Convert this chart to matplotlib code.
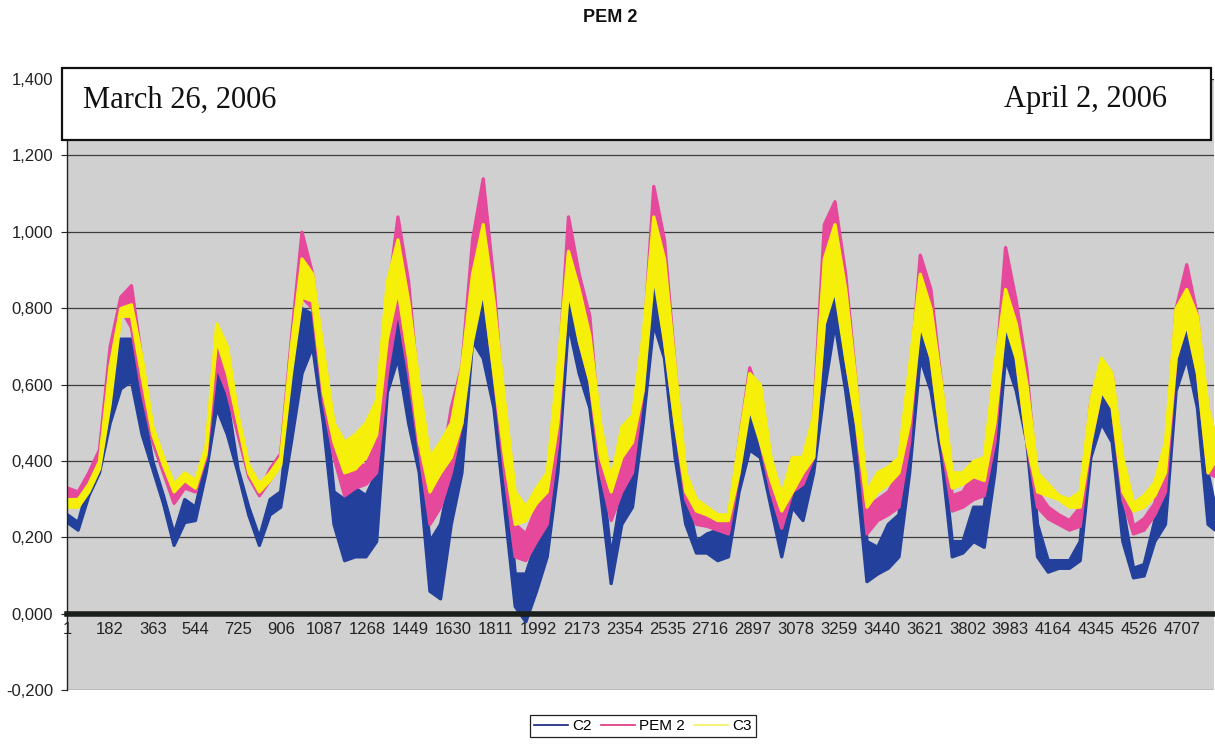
import matplotlib
matplotlib.use("Agg")
import matplotlib.pyplot as plt
from matplotlib.patches import Rectangle
from matplotlib.lines import Line2D
import numpy as np

plt.rcParams['font.family'] = ['Liberation Sans', 'DejaVu Sans']

# Sample index (every 45 readings) and the low/high envelope of each noisy series
sample_idx = [1 + 45 * k for k in range(108)] + [4846]

c2_lo = [0.24, 0.22, 0.31, 0.37, 0.50, 0.59, 0.61, 0.47, 0.38, 0.29,
         0.18, 0.24, 0.245, 0.37, 0.54, 0.47, 0.37, 0.26, 0.18, 0.26,
         0.28, 0.45, 0.63, 0.70, 0.50, 0.235, 0.14, 0.15, 0.15, 0.19,
         0.58, 0.67, 0.50, 0.37, 0.06, 0.04, 0.235, 0.37, 0.715, 0.67,
         0.54, 0.28, 0.02, -0.02, 0.06, 0.15, 0.37, 0.76, 0.63, 0.54,
         0.32, 0.08, 0.235, 0.28, 0.50, 0.76, 0.67, 0.41, 0.235, 0.16,
         0.16, 0.14, 0.15, 0.32, 0.43, 0.41, 0.28, 0.15, 0.28, 0.245,
         0.37, 0.585, 0.76, 0.585, 0.37, 0.085, 0.105, 0.12, 0.15, 0.37,
         0.67, 0.585, 0.41, 0.15, 0.16, 0.19, 0.175, 0.37, 0.67, 0.585,
         0.45, 0.15, 0.11, 0.12, 0.12, 0.14, 0.41, 0.50, 0.45, 0.19,
         0.095, 0.10, 0.19, 0.235, 0.585, 0.67, 0.54, 0.235, 0.22]
c2_hi = [0.26, 0.24, 0.34, 0.40, 0.58, 0.72, 0.72, 0.56, 0.40, 0.31,
         0.21, 0.30, 0.28, 0.40, 0.65, 0.56, 0.38, 0.28, 0.20, 0.30,
         0.32, 0.58, 0.80, 0.785, 0.60, 0.32, 0.30, 0.33, 0.31, 0.37,
         0.715, 0.84, 0.65, 0.45, 0.19, 0.235, 0.37, 0.52, 0.85, 0.86,
         0.69, 0.41, 0.105, 0.105, 0.19, 0.235, 0.52, 0.85, 0.715, 0.65,
         0.41, 0.15, 0.32, 0.37, 0.60, 0.87, 0.80, 0.56, 0.32, 0.19,
         0.21, 0.22, 0.235, 0.41, 0.52, 0.45, 0.35, 0.235, 0.37, 0.34,
         0.47, 0.80, 0.865, 0.73, 0.50, 0.19, 0.175, 0.235, 0.26, 0.52,
         0.775, 0.69, 0.45, 0.19, 0.19, 0.28, 0.28, 0.52, 0.77, 0.69,
         0.54, 0.235, 0.14, 0.14, 0.14, 0.19, 0.52, 0.585, 0.56, 0.28,
         0.12, 0.13, 0.245, 0.32, 0.715, 0.82, 0.69, 0.37, 0.28]

pem2_lo = [0.30, 0.31, 0.34, 0.40, 0.58, 0.80, 0.75, 0.58, 0.45, 0.37,
           0.29, 0.33, 0.32, 0.41, 0.65, 0.58, 0.47, 0.36, 0.31, 0.35,
           0.40, 0.65, 0.83, 0.80, 0.56, 0.41, 0.31, 0.33, 0.34, 0.37,
           0.63, 0.80, 0.63, 0.43, 0.235, 0.28, 0.37, 0.50, 0.76, 0.85,
           0.63, 0.37, 0.15, 0.14, 0.19, 0.235, 0.45, 0.89, 0.715, 0.61,
           0.37, 0.245, 0.32, 0.37, 0.585, 0.93, 0.715, 0.50, 0.30, 0.235,
           0.23, 0.22, 0.21, 0.37, 0.56, 0.45, 0.32, 0.225, 0.32, 0.34,
           0.41, 0.76, 0.89, 0.67, 0.50, 0.21, 0.245, 0.26, 0.28, 0.45,
           0.80, 0.67, 0.45, 0.27, 0.28, 0.30, 0.31, 0.45, 0.80, 0.67,
           0.45, 0.28, 0.25, 0.235, 0.22, 0.23, 0.45, 0.585, 0.54, 0.30,
           0.21, 0.22, 0.26, 0.32, 0.67, 0.76, 0.63, 0.37, 0.36]
pem2_hi = [0.33, 0.32, 0.37, 0.43, 0.70, 0.83, 0.86, 0.66, 0.47, 0.39,
           0.31, 0.35, 0.34, 0.43, 0.73, 0.66, 0.49, 0.38, 0.32, 0.38,
           0.42, 0.72, 1.00, 0.89, 0.66, 0.45, 0.37, 0.39, 0.39, 0.45,
           0.82, 1.04, 0.87, 0.56, 0.32, 0.37, 0.54, 0.65, 0.98, 1.14,
           0.87, 0.50, 0.235, 0.21, 0.28, 0.32, 0.60, 1.04, 0.89, 0.78,
           0.45, 0.30, 0.41, 0.45, 0.69, 1.12, 0.98, 0.65, 0.34, 0.27,
           0.25, 0.245, 0.245, 0.45, 0.645, 0.56, 0.385, 0.28, 0.41, 0.39,
           0.52, 1.02, 1.08, 0.89, 0.60, 0.28, 0.30, 0.32, 0.37, 0.60,
           0.94, 0.85, 0.60, 0.31, 0.32, 0.37, 0.37, 0.60, 0.96, 0.82,
           0.64, 0.32, 0.28, 0.26, 0.245, 0.28, 0.56, 0.66, 0.63, 0.37,
           0.23, 0.25, 0.29, 0.41, 0.80, 0.915, 0.78, 0.50, 0.42]

c3_lo = [0.28, 0.28, 0.32, 0.38, 0.55, 0.78, 0.78, 0.62, 0.47, 0.39,
         0.32, 0.35, 0.33, 0.42, 0.72, 0.63, 0.50, 0.37, 0.32, 0.35,
         0.39, 0.63, 0.83, 0.82, 0.58, 0.45, 0.37, 0.38, 0.41, 0.47,
         0.72, 0.85, 0.67, 0.45, 0.32, 0.37, 0.41, 0.50, 0.715, 0.85,
         0.63, 0.41, 0.235, 0.245, 0.29, 0.32, 0.50, 0.85, 0.715, 0.61,
         0.41, 0.32, 0.41, 0.45, 0.585, 0.89, 0.715, 0.50, 0.32, 0.27,
         0.26, 0.245, 0.245, 0.37, 0.54, 0.45, 0.35, 0.27, 0.32, 0.37,
         0.41, 0.76, 0.85, 0.67, 0.50, 0.28, 0.32, 0.34, 0.37, 0.50,
         0.76, 0.67, 0.45, 0.33, 0.34, 0.36, 0.35, 0.50, 0.76, 0.67,
         0.45, 0.32, 0.31, 0.30, 0.28, 0.28, 0.45, 0.585, 0.54, 0.32,
         0.27, 0.28, 0.31, 0.37, 0.67, 0.76, 0.63, 0.37, 0.40]
c3_hi = [0.30, 0.30, 0.34, 0.40, 0.65, 0.80, 0.81, 0.67, 0.49, 0.41,
         0.34, 0.37, 0.35, 0.44, 0.76, 0.70, 0.52, 0.39, 0.34, 0.37,
         0.41, 0.70, 0.93, 0.89, 0.69, 0.50, 0.45, 0.47, 0.50, 0.56,
         0.87, 0.98, 0.82, 0.60, 0.41, 0.45, 0.50, 0.65, 0.89, 1.02,
         0.82, 0.56, 0.32, 0.28, 0.33, 0.37, 0.65, 0.95, 0.85, 0.73,
         0.50, 0.35, 0.49, 0.52, 0.73, 1.04, 0.93, 0.65, 0.37, 0.30,
         0.28, 0.26, 0.26, 0.45, 0.63, 0.60, 0.41, 0.31, 0.41, 0.41,
         0.52, 0.93, 1.02, 0.85, 0.60, 0.32, 0.37, 0.385, 0.41, 0.65,
         0.89, 0.80, 0.60, 0.37, 0.37, 0.40, 0.41, 0.65, 0.85, 0.76,
         0.60, 0.37, 0.34, 0.31, 0.30, 0.32, 0.56, 0.67, 0.63, 0.41,
         0.29, 0.31, 0.345, 0.45, 0.80, 0.85, 0.78, 0.54, 0.47]

series_names = ['C2', 'PEM 2', 'C3']
series_colors = ['#22409c', '#e6489b', '#f6ef0a']
legend_colors = ['#10207a', '#e0307f', '#f4f060']

x_tick_values = list(range(1, 4708, 181))
y_tick_values = [-0.2, 0.0, 0.2, 0.4, 0.6, 0.8, 1.0, 1.2, 1.4]

W, H = 1215, 747
fig = plt.figure(figsize=(W / 100, H / 100), dpi=100)
fig.patch.set_facecolor('white')
ax = fig.add_axes([67 / W, 1 - 690 / H, (1214 - 67) / W, (690 - 79) / H])
ax.set_facecolor('#d0d0d0')
ax.set_xlim(1, 4843)
ax.set_ylim(-0.2, 1.4)

x = np.array(sample_idx)
bands = [(c2_lo, c2_hi), (pem2_lo, pem2_hi), (c3_lo, c3_hi)]
for (lo, hi), col in zip(bands, series_colors):
    ax.fill_between(x, lo, hi, facecolor=col, edgecolor=col, linewidth=2.4,
                    joinstyle='round', zorder=2)

# gridlines and axes
ax.set_axisbelow(True)
ax.set_yticks(y_tick_values)
ax.set_yticklabels([f"{v:.3f}".replace('.', ',') for v in y_tick_values])
ax.yaxis.grid(True, color='#3c3c3c', linewidth=0.9)
ax.tick_params(axis='y', direction='out', length=4, width=0.8, pad=6,
               labelsize=12, colors='#222222')

ax.spines['bottom'].set_position(('data', 0))
ax.spines['bottom'].set_linewidth(4)
ax.spines['bottom'].set_color('#1b1f1b')
ax.spines['bottom'].set_zorder(3)
ax.spines['top'].set_visible(False)
ax.spines['right'].set_visible(False)
ax.spines['left'].set_linewidth(1.0)
ax.spines['left'].set_color('#222222')

ax.set_xticks(x_tick_values)
ax.set_xticklabels([str(v) for v in x_tick_values])
ax.tick_params(axis='x', length=0, pad=6, labelsize=12, colors='#222222')

# date banner over the top of the plot area
fig.add_artist(Rectangle((62 / W, 1 - 140 / H), (1211 - 62) / W, (140 - 68) / H,
                         transform=fig.transFigure, facecolor='white',
                         edgecolor='#111111', linewidth=1.6, zorder=5))
fig.text(83 / W, 1 - 100 / H, 'March 26, 2006', family='Liberation Serif',
         fontsize=22, ha='left', va='center', zorder=6, color='#111111')
fig.text(1167 / W, 1 - 100 / H, 'April 2, 2006', family='Liberation Serif',
         fontsize=22, ha='right', va='center', zorder=6, color='#111111')

fig.text(610 / W, 1 - 17 / H, 'PEM 2', fontsize=13, fontweight='bold',
         ha='center', va='center', color='#111111')

handles = [Line2D([], [], color=c, linewidth=1.2) for c in legend_colors]
leg = fig.legend(handles, series_names, loc='center',
                 bbox_to_anchor=(643 / W, 1 - 726 / H), ncol=3, frameon=True,
                 fancybox=False, edgecolor='#222222', framealpha=1,
                 fontsize=11, handlelength=2.2, handletextpad=0.3,
                 columnspacing=0.6, borderpad=0.25)
leg.get_frame().set_linewidth(0.9)

fig.savefig('out.png', dpi=100)
